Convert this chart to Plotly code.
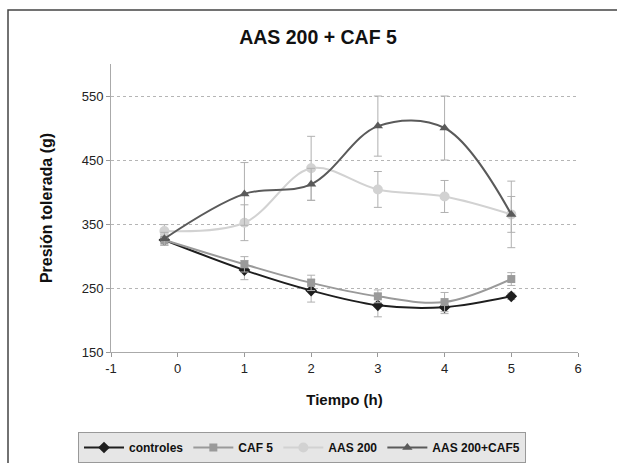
import plotly.graph_objects as go

x_vals = [-0.2, 1, 2, 3, 4, 5]
controles = [325, 278, 246, 223, 220, 237]
controles_err = [8, 15, 18, 18, 10, 5]
caf5 = [325, 287, 258, 237, 228, 264]
caf5_err = [8, 12, 12, 10, 15, 10]
aas200 = [339, 352, 437, 404, 393, 365]
aas200_err = [10, 28, 50, 28, 25, 28]
aas_caf = [327, 397, 412, 503, 500, 365]
aas_caf_err = [10, 49, 25, 47, 50, 52]
x_ticks = [-1, 0, 1, 2, 3, 4, 5, 6]
x_ticklabels = ["-1", "0", "1", "2", "3", "4", "5", "6"]
y_ticks = [150, 250, 350, 450, 550]

series = [
    ("controles", controles, controles_err, "#1e1e1e", "diamond", 9),
    ("CAF 5", caf5, caf5_err, "#9a9a9a", "square", 8),
    ("AAS 200", aas200, aas200_err, "#d2d2d2", "circle", 10),
    ("AAS 200+CAF5", aas_caf, aas_caf_err, "#5a5a5a", "triangle-up", 9),
]

fig = go.Figure()
for name, y, err, col, sym, sz in series:
    fig.add_trace(go.Scatter(
        x=x_vals, y=y, name=name, mode="lines+markers",
        line=dict(color=col, width=2, shape="spline", smoothing=1),
        marker=dict(color=col, symbol=sym, size=sz),
        error_y=dict(type="data", array=err, visible=True, color="#b0b0b0", thickness=1, width=4),
    ))

W, H = 617, 463
L, R, T, B = 111, 39, 64, 111
pw, ph = W - L - R, H - T - B

def px(xp):
    return (xp - L) / pw

def py(yp):
    return (H - B - yp) / ph

fig.update_layout(
    width=W, height=H,
    margin=dict(l=L, r=R, t=T, b=B, autoexpand=False),
    paper_bgcolor="white", plot_bgcolor="white",
    font=dict(family="Liberation Sans, Arial, sans-serif", color="#111", size=13),
    title=dict(text="<b>AAS 200 + CAF 5</b>", x=318 / W, xanchor="center",
               y=1 - 37 / H, yanchor="middle", font=dict(size=19.5, color="#111")),
    showlegend=True,
    legend=dict(orientation="h", x=78 / W, y=1 - 432 / H, xref="container", yref="container",
                xanchor="left", yanchor="top",
                bgcolor="#e6e6e6", bordercolor="#999", borderwidth=1,
                font=dict(size=12, color="#111", family="Liberation Sans, Arial, sans-serif", weight="bold"),
                tracegroupgap=0, itemwidth=40),
    shapes=[dict(type="rect", xref="paper", yref="paper",
                 x0=px(8), x1=px(640), y0=py(480), y1=py(10),
                 line=dict(color="#444", width=1.5), fillcolor="rgba(0,0,0,0)", layer="below")],
)

fig.update_xaxes(
    range=[-1, 6], tickvals=x_ticks, ticktext=x_ticklabels, ticks="outside", ticklen=4,
    tickcolor="#999", showline=True, linecolor="#aaa", linewidth=1, showgrid=False,
    zeroline=False, title=dict(text="<b>Tiempo (h)</b>", font=dict(size=15, color="#111"), standoff=19),
    tickfont=dict(size=13, color="#222"),
)
fig.update_yaxes(
    range=[150, 600], tickvals=y_ticks, ticks="outside", ticklen=4,
    tickcolor="#999", showline=True, linecolor="#aaa", linewidth=1,
    showgrid=True, gridcolor="#b5b5b5", griddash="dot", gridwidth=1, zeroline=False,
    title=dict(text="<b>Presión tolerada (g)</b>", font=dict(size=16, color="#111"), standoff=25),
    tickfont=dict(size=13, color="#222"),
)

fig.write_html("out.html")
